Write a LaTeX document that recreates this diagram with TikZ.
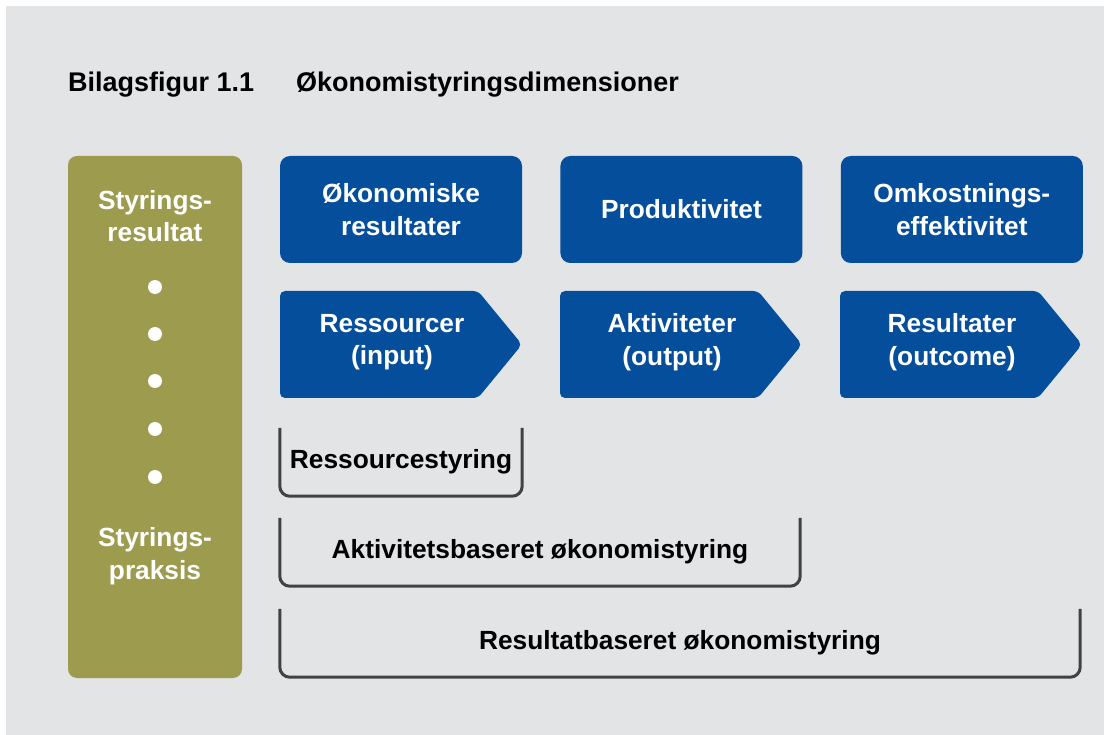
\documentclass[tikz,border=0pt]{standalone}
\usepackage{fontspec}
\setmainfont{Liberation Sans}
\usetikzlibrary{
    arrows.meta,
    positioning,
    backgrounds,
}
\definecolor{fmblue}{RGB}{4,78,155}
\definecolor{fmolive}{RGB}{157,155,78}
\definecolor{fmgray}{RGB}{227,228,230}
\definecolor{fmline}{RGB}{66,66,68}

\begin{document}
\begin{tikzpicture}[
        x=1pt, y=-1pt,
        every node/.style={font=\fontsize{26.3}{32.5}\selectfont\bfseries,
            align=center, inner sep=0pt},
        dimbox/.style={fill=fmblue, text=white, rounded corners=10pt,
            minimum width=242pt, minimum height=107pt},
        flowtxt/.style={text=white},
        flowshape/.style={fill=fmblue, rounded corners=5pt},
        sidebar/.style={fill=fmolive, rounded corners=9pt,
            minimum width=174pt, minimum height=522pt},
        sidetxt/.style={text=white},
        sidedot/.style={circle, fill=white, minimum size=14pt},
        spanbox/.style={minimum height=68pt},
        bracket/.style={draw=fmline, line width=3pt, rounded corners=10pt},
    ]
    % baggrund
    \useasboundingbox (0,0) rectangle (1104,735);
    \fill[white] (0,0) rectangle (1104,735);
    \fill[fmgray] (6,6) rectangle (1104,735);

    % overskrift
    \node[anchor=base west, font=\fontsize{27}{32}\selectfont\bfseries] (fignr) at (68,92) {Bilagsfigur 1.1};
    \node[anchor=base west, font=\fontsize{27}{32}\selectfont\bfseries] (figtitle) at (296,92) {Økonomistyringsdimensioner};

    % venstre kolonne
    \node[sidebar] (side) at (155,417) {};
    \node[sidetxt] (toplbl) at (155,216) {Styrings-\\resultat};
    \node[sidetxt] (botlbl) at (155,556) {Styrings-\\praksis};
    \foreach \yy [count=\k] in {287,334,381,429,477}
        \node[sidedot] (dot\k) at (155,\yy) {};

    % dimensioner
    \node[dimbox] (okres) at (401,209.5) {Økonomiske\\resultater};
    \node[dimbox, right=38pt of okres] (prod) {Produktivitet};
    \node[dimbox, right=38pt of prod] (omkeff) {Omkostnings-\\effektivitet};

    % kæden input - output - outcome
    \foreach \xx/\nm/\txt in {280/input/{Ressourcer\\(input)},
                              560/output/{Aktiviteter\\(output)},
                              840/outcome/{Resultater\\(outcome)}} {
        \fill[flowshape] (\xx,291) -- (\xx+198,291) -- (\xx+242,344.5)
            -- (\xx+198,398) -- (\xx,398) -- cycle;
        \node[flowtxt] (\nm) at (\xx+112,342) {\txt};
    }

    % styringsformer
    \node[spanbox, minimum width=242pt] (rstyr) at (401,462) {Ressourcestyring};
    \node[spanbox, minimum width=520pt] (astyr) at (540,552) {Aktivitetsbaseret økonomistyring};
    \node[spanbox, minimum width=800pt] (bstyr) at (680,643) {Resultatbaseret økonomistyring};
    \foreach \nm in {rstyr, astyr, bstyr}
        \draw[bracket] (\nm.north west) |- (\nm.south east) -- (\nm.north east);
\end{tikzpicture}
\end{document}
